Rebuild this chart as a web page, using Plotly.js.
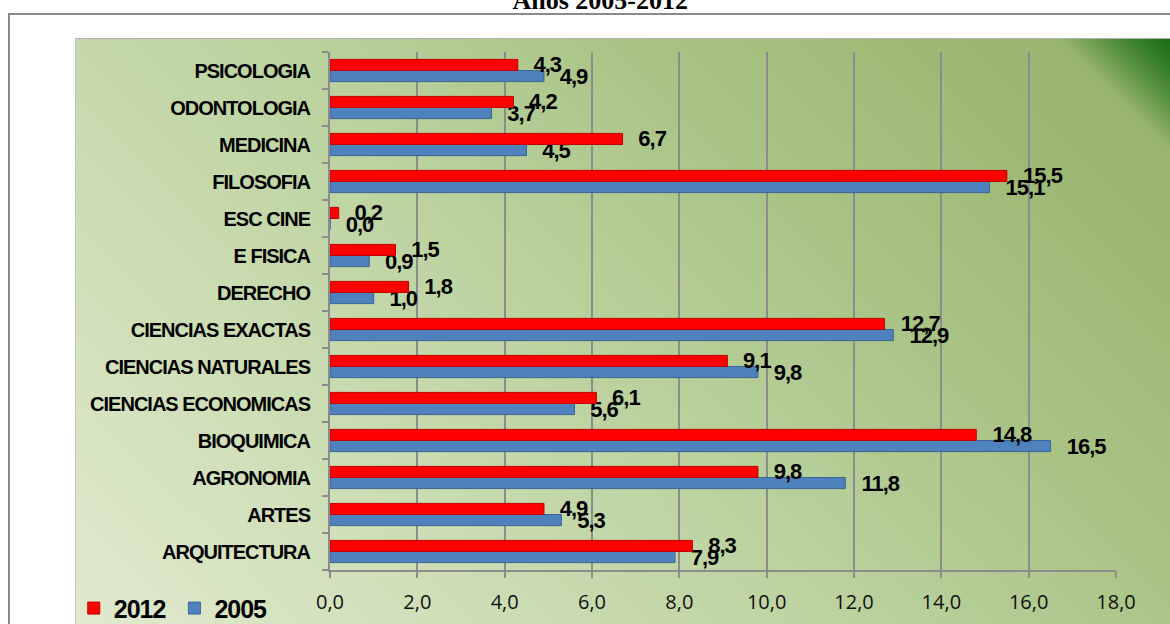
<!DOCTYPE html>
<html>
<head>
<meta charset="utf-8">
<script src="https://cdn.plot.ly/plotly-3.0.1.min.js"></script>
<style>
  html, body { margin:0; padding:0; background:#ffffff; width:1170px; height:624px; overflow:hidden; }
  #frame { position:absolute; left:8px; top:13px; width:1170px; height:640px; border:2px solid #8a8a8a; box-sizing:border-box; background:#fff; }
  #bg { position:absolute; left:75px; top:38px; width:1100px; height:590px; border-top:1px solid #b0b0b0; border-left:1px solid #c8c8c8;
        background: linear-gradient(45deg, #e0eacf 0%, #cfdfb8 22%, #bcd3a0 45%, #a9c385 68%, #9db874 86%, #9ab570 93%, #6d9c4c 95%, #2f7c26 98%, #166a14 100%); }
  #chart { position:absolute; left:0; top:0; width:1170px; height:624px; }
  #chart .ytick text, #chart .bartext, #chart .legendtext { letter-spacing: -1px; }
</style>
</head>
<body>
<div id="frame"></div>
<div id="bg"></div>
<div id="chart"></div>
<script>
const categories = ["ARQUITECTURA","ARTES","AGRONOMIA","BIOQUIMICA","CIENCIAS ECONOMICAS","CIENCIAS NATURALES","CIENCIAS EXACTAS","DERECHO","E FISICA","ESC CINE","FILOSOFIA","MEDICINA","ODONTOLOGIA","PSICOLOGIA"];
const values2012 = [8.3, 4.9, 9.8, 14.8, 6.1, 9.1, 12.7, 1.8, 1.5, 0.2, 15.5, 6.7, 4.2, 4.3];
const values2005 = [7.9, 5.3, 11.8, 16.5, 5.6, 9.8, 12.9, 1.0, 0.9, 0.0, 15.1, 4.5, 3.7, 4.9];
const xTicks = [0, 2, 4, 6, 8, 10, 12, 14, 16, 18];
const titleText = "Años 2005-2012";

const boldFont = "'Liberation Sans', Arial, sans-serif";
const labelFont = {family: boldFont, size: 22, color: "#000", weight: "bold"};
const labelTemplate = "\u00a0\u00a0%{x:.1f}";

const t2005 = {
  type: "bar", orientation: "h", name: "2005",
  y: categories, x: values2005,
  marker: {color: "#4f81bd", line: {color: "#3b6596", width: 1}},
  texttemplate: labelTemplate, textposition: "outside",
  textfont: labelFont, constraintext: "none", cliponaxis: false,
  hoverinfo: "x+y"
};
const t2012 = {
  type: "bar", orientation: "h", name: "2012",
  y: categories, x: values2012,
  marker: {color: "#ff0000", line: {color: "#c00000", width: 1}},
  texttemplate: labelTemplate, textposition: "outside",
  textfont: labelFont, constraintext: "none", cliponaxis: false,
  hoverinfo: "x+y"
};

const layout = {
  width: 1170, height: 624,
  paper_bgcolor: "rgba(0,0,0,0)", plot_bgcolor: "rgba(0,0,0,0)",
  margin: {l: 330, r: 54, t: 52, b: 54, autoexpand: false},
  separators: ",.",
  barmode: "group", bargap: 0.4, bargroupgap: 0,
  title: {text: titleText, font: {family: "'Liberation Serif', 'Times New Roman', serif", size: 26, color: "#000", weight: "bold"},
          x: 0.513, xref: "container", xanchor: "center", y: 1.0, yref: "container", yanchor: "middle"},
  xaxis: {
    range: [0, 18], tickvals: xTicks, tickformat: ".1f",
    showgrid: true, gridcolor: "#8c8c8c", gridwidth: 2,
    showline: true, linecolor: "#8c8c8c", linewidth: 2,
    ticks: "outside", ticklen: 6, tickcolor: "#8c8c8c", tickwidth: 2,
    ticklabelstandoff: 7,
    tickfont: {family: "'Open Sans', 'DejaVu Sans', sans-serif", size: 20, color: "#111"},
    zeroline: false, fixedrange: true
  },
  yaxis: {
    categoryorder: "array", categoryarray: categories,
    showline: true, linecolor: "#8c8c8c", linewidth: 2,
    ticks: "outside", tickson: "boundaries", ticklen: 6, tickcolor: "#8c8c8c", tickwidth: 2,
    ticklabelstandoff: 14,
    tickfont: {family: boldFont, size: 20, color: "#000", weight: "bold"},
    showgrid: false, fixedrange: true
  },
  legend: {orientation: "h", x: -0.326, xanchor: "left", y: -0.074, yanchor: "middle",
           traceorder: "reversed", bgcolor: "rgba(0,0,0,0)",
           font: {family: boldFont, size: 25, color: "#000", weight: "bold"},
           itemwidth: 30},
  showlegend: true
};

Plotly.newPlot("chart", [t2005, t2012], layout, {displayModeBar: false, staticPlot: true});
</script>
</body>
</html>
